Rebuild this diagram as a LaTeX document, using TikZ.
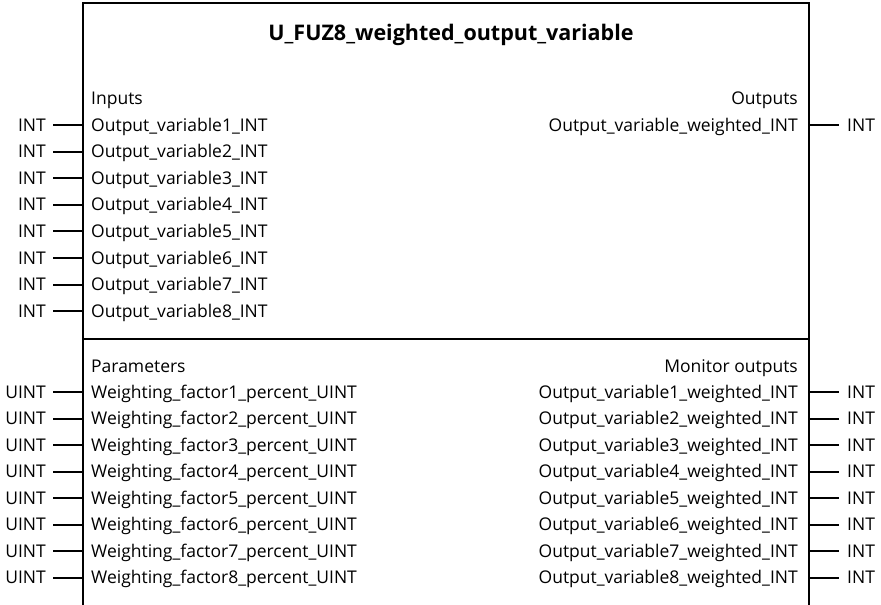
\documentclass[tikz,border=0pt]{standalone}
\usepackage{fontspec}
\setmainfont{Open Sans}
\begin{document}
\begin{tikzpicture}[x=1pt,y=-1pt,
  lbl/.style={inner sep=0pt, font=\fontsize{17.5}{19}\selectfont},
  ttl/.style={inner sep=0pt, font=\fontsize{21.5}{24}\selectfont\bfseries},
  frame/.style={line width=2.4pt},
  conn/.style={line width=2pt}]
\useasboundingbox (0,0) rectangle (881,605);
\draw[frame] (83,606) -- (83,3) -- (809,3) -- (809,606);
\draw[frame] (83,339) -- (809,339);
\node[ttl, anchor=base] (title) at (451,40) {U\_FUZ8\_weighted\_output\_variable};
\node[lbl, anchor=base west] (inputs) at (91,104.4) {Inputs};
\node[lbl, anchor=base east] (outputs) at (798,104.4) {Outputs};
\node[lbl, anchor=base east] (outw) at (798,131) {Output\_variable\_weighted\_INT};
\node[lbl, anchor=base west] (outwt) at (847,131) {INT};
\coordinate (outwL) at (809,125);
\coordinate (outwR) at (839,125);
\draw[conn] (outwL) -- (outwR);
\node[lbl, anchor=base west] (params) at (91,372) {Parameters};
\node[lbl, anchor=base east] (mon) at (798,372) {Monitor outputs};
\foreach \i in {1,...,8} {
  \pgfmathsetmacro\yb{131+(\i-1)*26.6}
  \pgfmathsetmacro\yc{round(\yb-6)}
  \node[lbl, anchor=base west] (in\i) at (91,\yb) {Output\_variable\i\_INT};
  \node[lbl, anchor=base east] (int\i) at (46,\yb) {INT};
  \coordinate (inL\i) at (53,\yc);
  \coordinate (inR\i) at (83,\yc);
  \draw[conn] (inL\i) -- (inR\i);
  \pgfmathsetmacro\zb{398+(\i-1)*26.57}
  \pgfmathsetmacro\zc{round(\zb-6)}
  \node[lbl, anchor=base west] (wf\i) at (91,\zb) {Weighting\_factor\i\_percent\_UINT};
  \node[lbl, anchor=base east] (uint\i) at (46,\zb) {UINT};
  \coordinate (wfL\i) at (53,\zc);
  \coordinate (wfR\i) at (83,\zc);
  \draw[conn] (wfL\i) -- (wfR\i);
  \node[lbl, anchor=base east] (mo\i) at (798,\zb) {Output\_variable\i\_weighted\_INT};
  \node[lbl, anchor=base west] (mot\i) at (847,\zb) {INT};
  \coordinate (moL\i) at (809,\zc);
  \coordinate (moR\i) at (839,\zc);
  \draw[conn] (moL\i) -- (moR\i);
}
\end{tikzpicture}
\end{document}
